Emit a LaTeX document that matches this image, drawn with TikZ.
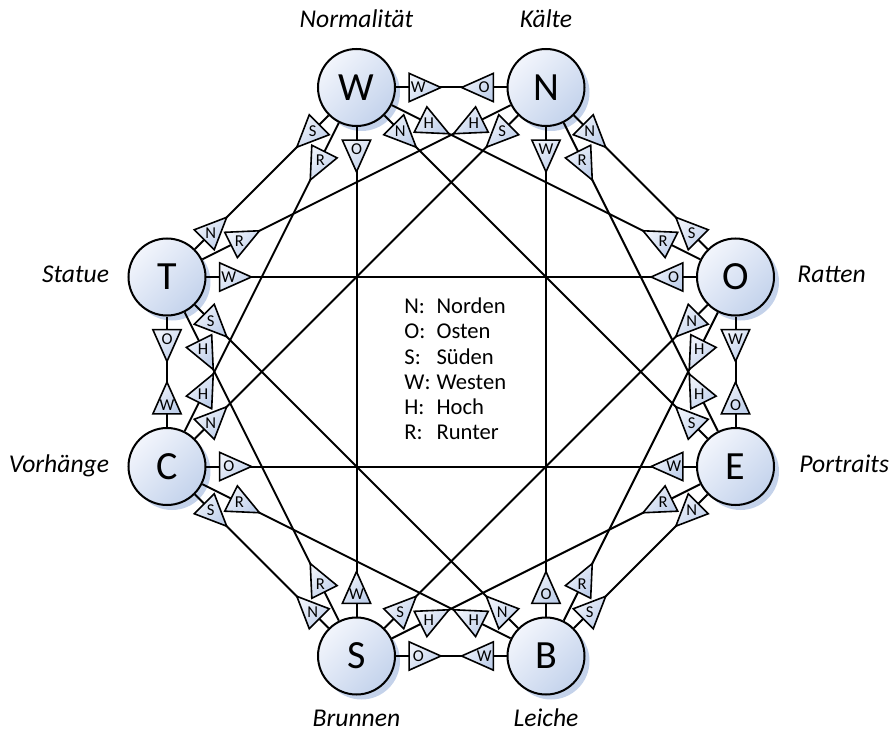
\documentclass[tikz,border=0pt]{standalone}
\usepackage{fontspec}
\setmainfont{Carlito}
\usetikzlibrary{calc, positioning, shapes.geometric, shadows}
\definecolor{roomfill}{RGB}{196,211,236}
\definecolor{roomlight}{RGB}{242,245,252}
\definecolor{roomshadow}{RGB}{196,210,234}
\definecolor{markfill}{RGB}{192,208,235}
\definecolor{marklight}{RGB}{238,242,250}

\newcommand{\dirtext}[1]{\makebox[0pt]{\raisebox{-.5\height}[0pt][0pt]{#1}}}

% from / to / mark at from / mark at to / distance of the mark
\def\passages{W/N/W/O/30.9pt, W/T/S/N/30.9pt, W/C/R/H/40.4pt, W/E/N/S/30.9pt, W/O/H/R/40.4pt, W/S/O/W/30.9pt,
  N/T/H/R/40.4pt, N/C/S/N/30.9pt, N/B/W/O/30.9pt, N/O/N/S/30.9pt, N/E/R/H/40.4pt,
  O/T/O/W/30.9pt, O/S/N/S/30.9pt, O/B/H/R/40.4pt, O/E/W/O/30.9pt,
  E/C/W/O/30.9pt, E/S/R/H/40.4pt, E/B/N/S/30.9pt,
  B/S/W/O/30.9pt, B/C/H/R/40.4pt, B/T/N/S/30.9pt,
  S/T/R/H/40.4pt, S/C/N/S/30.9pt,
  C/T/W/O/30.9pt}

\begin{document}
\begin{tikzpicture}[x=94.75pt, y=94.75pt,
    room/.style={circle, draw, line width=1pt, minimum size=38.5pt, inner sep=0pt,
      top color=roomlight, bottom color=roomfill, shading angle=45,
      drop shadow={shadow xshift=2.5pt, shadow yshift=-2.5pt, fill=roomshadow, opacity=1},
      font=\fontsize{20}{20}\selectfont},
    roomname/.style={font=\fontsize{12.8}{12.8}\selectfont\itshape, inner sep=0pt,
      text height=6pt, text depth=0pt},
    passage/.style={line width=1pt},
    dirmark/.style={isosceles triangle, isosceles triangle apex angle=48,
      shape border uses incircle, draw, line width=0.8pt, inner sep=3.25pt,
      outer sep=0pt, minimum size=0pt,
      top color=marklight, bottom color=markfill, shading angle=45,
      font=\fontsize{8.3}{8.3}\selectfont},
    legend/.style={font=\fontsize{11.3}{12.6}\selectfont, inner sep=0pt}]

    \useasboundingbox (-225.625pt,-180.625pt) rectangle (220.375pt,185.875pt);

    % rooms
    \node[room] (W) at (-0.5, 1.5) {W};
    \node[room] (N) at (0.5, 1.5) {N};
    \node[room] (O) at (1.5, 0.5) {O};
    \node[room] (E) at (1.5, -0.5) {E};
    \node[room] (B) at (0.5, -1.5) {B};
    \node[room] (S) at (-0.5, -1.5) {S};
    \node[room] (C) at (-1.5, -0.5) {C};
    \node[room] (T) at (-1.5, 0.5) {T};

    \node[roomname, above=10pt of W] (lblW) {Normalität};
    \node[roomname, above=10pt of N] (lblN) {Kälte};
    \node[roomname, right=11pt of O] (lblO) {Ratten};
    \node[roomname, right=12pt of E] (lblE) {Portraits};
    \node[roomname, below=9.25pt of B] (lblB) {Leiche};
    \node[roomname, below=9.25pt of S] (lblS) {Brunnen};
    \node[roomname, left=9pt of C] (lblC) {Vorhänge};
    \node[roomname, left=9pt of T] (lblT) {Statue};

    % passages first, marks on top
    \foreach \a/\b/\la/\lb/\d in \passages {
        \draw[passage] (\a) -- (\b);
    }
    \foreach \a/\b/\la/\lb/\d in \passages {
        \path let \p1 = ($(\b)-(\a)$), \n1 = {atan2(\y1,\x1)}, \n2 = {\n1+180} in
            node[dirmark, shape border rotate=\n1] (d\a\b) at ($(\a)!\d!(\b)$) {\dirtext{\la}}
            node[dirmark, shape border rotate=\n2] (d\b\a) at ($(\b)!\d!(\a)$) {\dirtext{\lb}};
    }

    \node[legend] (key) at (2pt, 0) {%
        \begin{tabular}{@{}l@{\hspace{3pt}}l@{}}
            N: & Norden\\
            O: & Osten\\
            S: & Süden\\
            W: & Westen\\
            H: & Hoch\\
            R: & Runter
        \end{tabular}};

\end{tikzpicture}
\end{document}
